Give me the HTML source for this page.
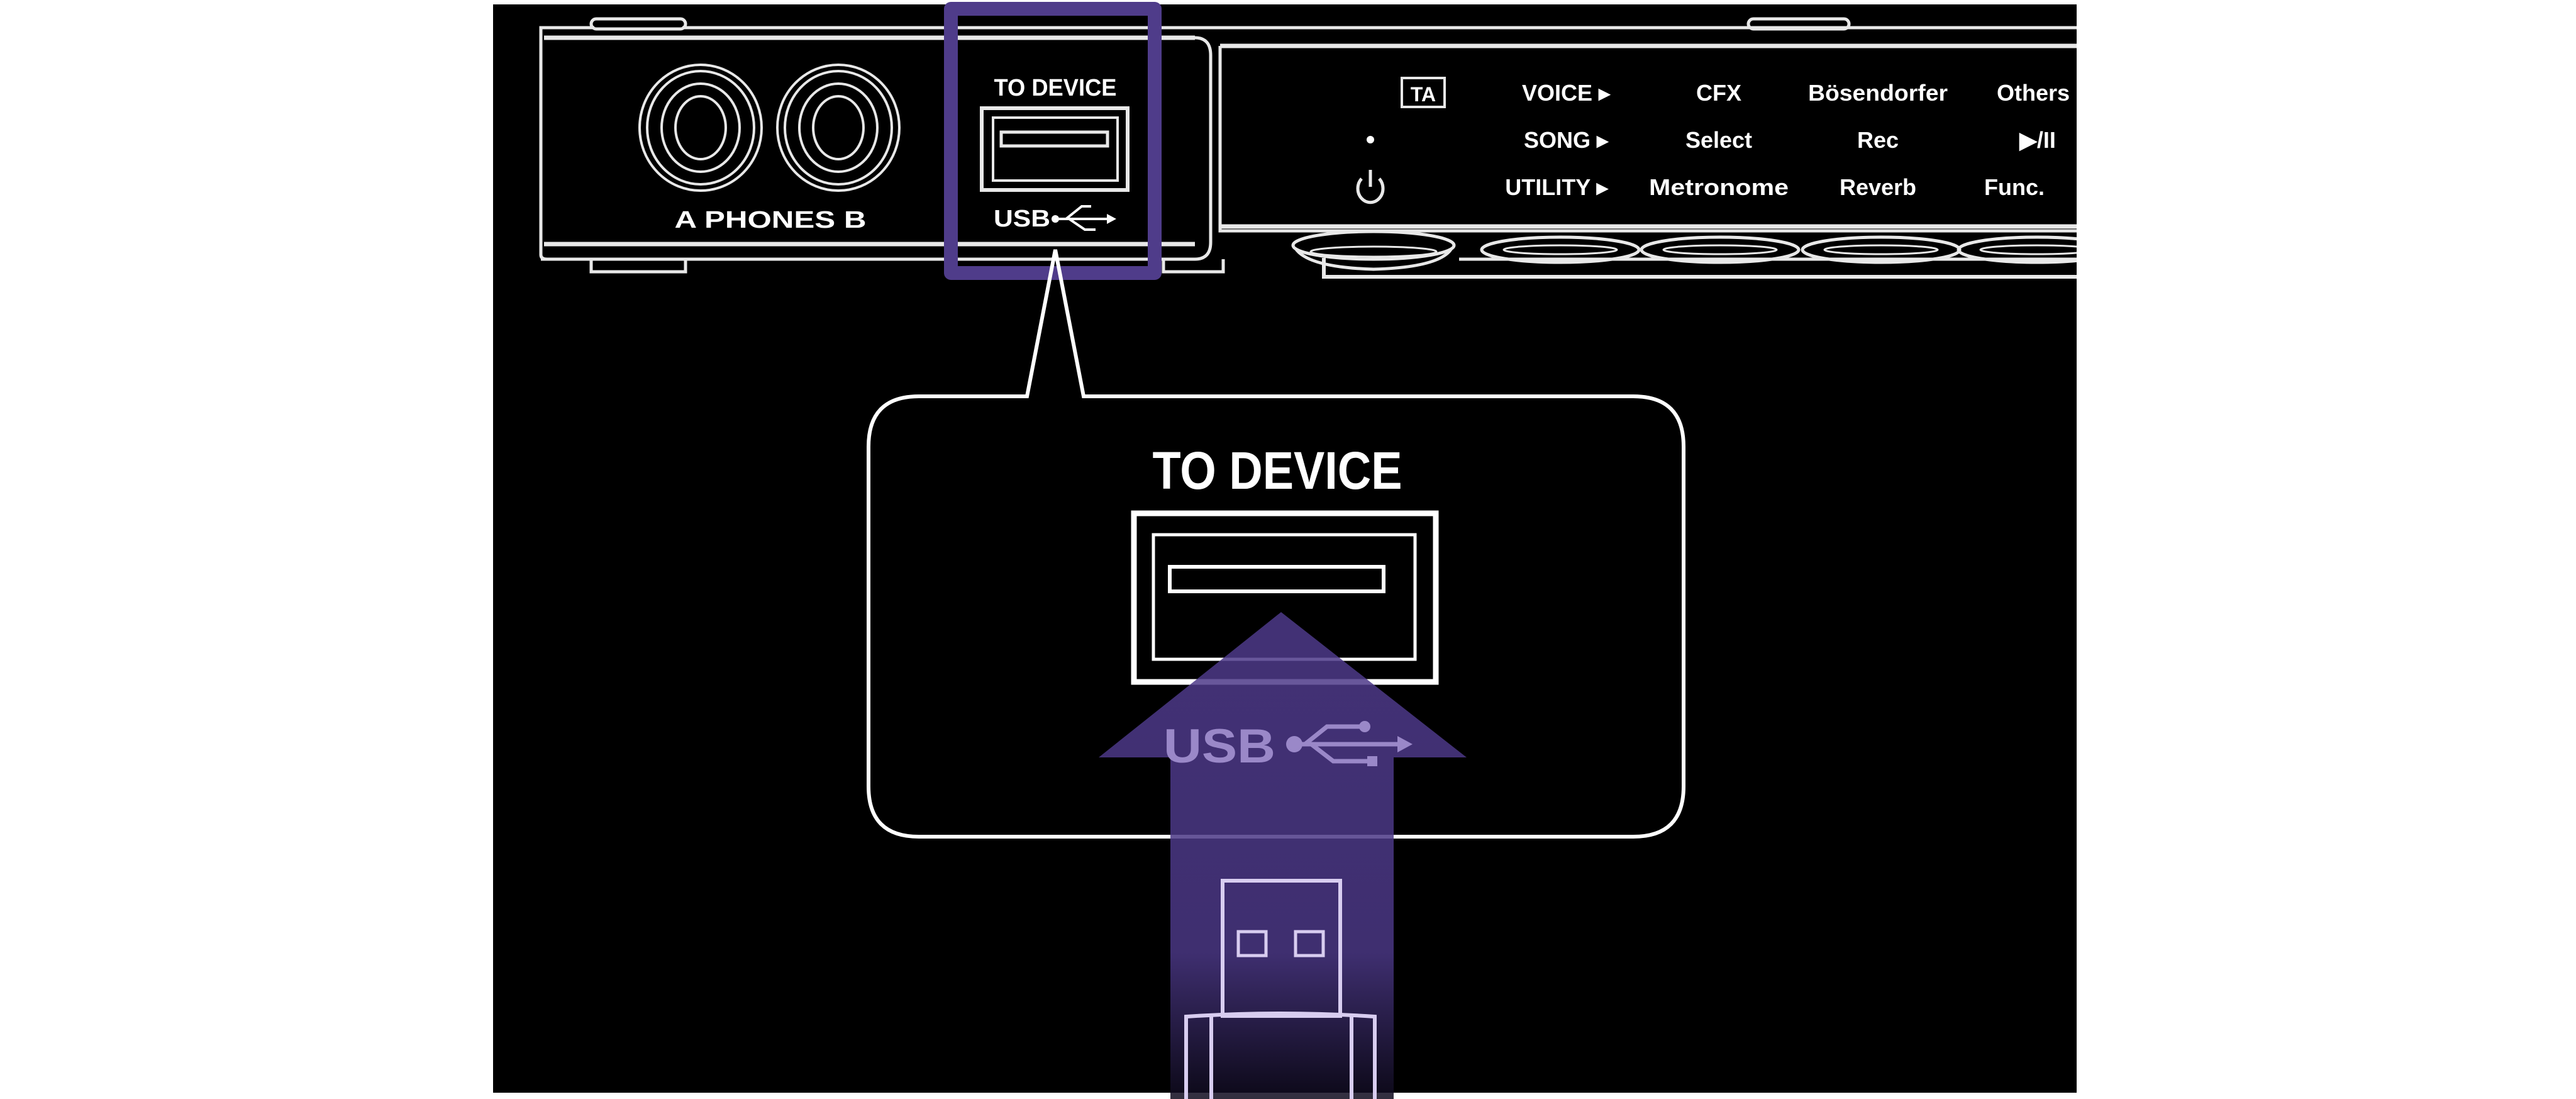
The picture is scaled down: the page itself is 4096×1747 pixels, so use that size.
<!DOCTYPE html>
<html><head><meta charset="utf-8"><style>
html,body{margin:0;padding:0;background:#fff;}
svg{display:block;}
text{font-family:"Liberation Sans",sans-serif;fill:#fff;font-weight:bold;}
</style></head><body>
<svg width="4096" height="1747" viewBox="0 0 4096 1747" xmlns="http://www.w3.org/2000/svg">
<defs>
<linearGradient id="ag" x1="0" y1="0" x2="0" y2="1">
<stop offset="0" stop-color="#4e3a8a"/>
<stop offset="0.7" stop-color="#4a3784"/>
<stop offset="1" stop-color="#0e0a1c"/>
</linearGradient>
<clipPath id="cp"><rect x="784" y="7" width="2518" height="1730"/></clipPath>
</defs>
<rect x="784" y="7" width="2518" height="1730" fill="#000"/>
<g clip-path="url(#cp)" stroke="#e8e8e8" fill="none" stroke-width="5">
<path d="M860 70 V44 H945 M1085 44 H3310"/>
<rect x="940" y="30" width="150" height="16" rx="8"/>
<rect x="2780" y="30" width="160" height="16" rx="8"/>
<path d="M860 70 V405 Q860 412 870 412 H1900 Q1925 412 1925 385 V88 Q1925 60 1900 60 H868" />
<line x1="865" y1="60" x2="1900" y2="60" stroke-width="7"/>
<line x1="865" y1="388" x2="1900" y2="388" stroke-width="7"/>
<path d="M860 412 H940 V432 H1090 V412 H1560"/>
<path d="M1790 412 H1850 V432 H1945 V412"/>
<path d="M1940 73 V367 H3310"/>
<line x1="1940" y1="73" x2="3310" y2="73" stroke-width="7"/>
<line x1="1940" y1="360" x2="3310" y2="360" stroke-width="7"/>
<path d="M2105 410 V440 H3310" stroke-width="6"/>
<line x1="2320" y1="412" x2="3310" y2="412"/>
<ellipse cx="2184" cy="390" rx="128" ry="22"/>
<path d="M2060 395 Q2080 425 2184 428 Q2290 425 2308 395"/>
<ellipse cx="2184" cy="400" rx="100" ry="8" stroke-width="3"/>
<ellipse cx="2481" cy="397" rx="125" ry="20"/>
<ellipse cx="2481" cy="397" rx="90" ry="7" stroke-width="3"/>
<ellipse cx="2735" cy="397" rx="125" ry="20"/>
<ellipse cx="2735" cy="397" rx="90" ry="7" stroke-width="3"/>
<ellipse cx="2991" cy="397" rx="125" ry="20"/>
<ellipse cx="2991" cy="397" rx="90" ry="7" stroke-width="3"/>
<ellipse cx="3239" cy="397" rx="125" ry="20"/>
<ellipse cx="3239" cy="397" rx="90" ry="7" stroke-width="3"/>
<g stroke-width="4">
<ellipse cx="1114" cy="203" rx="97" ry="100"/><ellipse cx="1114" cy="203" rx="85" ry="90"/>
<ellipse cx="1114" cy="203" rx="62" ry="70"/><ellipse cx="1114" cy="203" rx="40" ry="50"/>
<ellipse cx="1333" cy="203" rx="97" ry="100"/><ellipse cx="1333" cy="203" rx="85" ry="90"/>
<ellipse cx="1333" cy="203" rx="62" ry="70"/><ellipse cx="1333" cy="203" rx="40" ry="50"/>
</g>
<rect x="1561" y="172" width="232" height="130" stroke-width="6"/>
<rect x="1579" y="187" width="198" height="100" stroke-width="4"/>
<rect x="1592" y="210" width="169" height="22" stroke-width="5"/>
<rect x="2229" y="124" width="68" height="46" stroke-width="4"/>
<path d="M2165 284 A20 22 0 1 0 2193 284" stroke-width="5"/>
<line x1="2179" y1="270" x2="2179" y2="297" stroke-width="5"/>
</g>
<g clip-path="url(#cp)">
<circle cx="2179" cy="222" r="6" fill="#fff"/>
<text x="1225" y="362" font-size="38" text-anchor="middle" textLength="305" lengthAdjust="spacingAndGlyphs">A  PHONES  B</text>
<text x="1678" y="152" font-size="38" text-anchor="middle" textLength="195" lengthAdjust="spacingAndGlyphs">TO DEVICE</text>
<text x="1580" y="360" font-size="38" textLength="90" lengthAdjust="spacingAndGlyphs">USB</text>
<g stroke="#fff" stroke-width="4" fill="none"><path d="M1678 348 H1765 M1695 348 L1720 328 H1735 M1700 348 L1725 365 H1742"/></g>
<circle cx="1678" cy="348" r="6" fill="#fff"/><path d="M1760 340 L1775 348 L1760 356Z" fill="#fff"/>
<g font-size="36">
<text x="2263" y="161" text-anchor="middle" font-size="32">TA</text>
<text x="2490" y="160" text-anchor="middle">VOICE ▸</text>
<text x="2733" y="160" text-anchor="middle">CFX</text>
<text x="2986" y="160" text-anchor="middle" textLength="222" lengthAdjust="spacingAndGlyphs">Bösendorfer</text>
<text x="3175" y="160">Others</text>
<text x="2490" y="235" text-anchor="middle">SONG ▸</text>
<text x="2733" y="235" text-anchor="middle">Select</text>
<text x="2986" y="235" text-anchor="middle">Rec</text>
<text x="3240" y="235" text-anchor="middle">▶/II</text>
<text x="2475" y="310" text-anchor="middle">UTILITY ▸</text>
<text x="2733" y="310" text-anchor="middle" textLength="222" lengthAdjust="spacingAndGlyphs">Metronome</text>
<text x="2986" y="310" text-anchor="middle">Reverb</text>
<text x="3203" y="310" text-anchor="middle">Func.</text>
</g>
</g>
<path d="M1512 14 H1836 V434 H1512 Z" fill="none" stroke="#4f3c8a" stroke-width="22" stroke-linejoin="round"/>
<rect x="1505" y="7" width="338" height="18" fill="#4f3c8a"/>
<path d="M1633 630 L1678 397 L1723 630 H2597 Q2677 630 2677 710 V1250 Q2677 1330 2597 1330 H1461 Q1381 1330 1381 1250 V710 Q1381 630 1461 630 Z" fill="none" stroke="#fff" stroke-width="6"/>
<text x="2031" y="777" font-size="84" text-anchor="middle" textLength="397" lengthAdjust="spacingAndGlyphs">TO DEVICE</text>
<rect x="1803" y="816" width="480" height="268" fill="none" stroke="#fff" stroke-width="9"/>
<rect x="1834" y="850" width="416" height="198" fill="none" stroke="#fff" stroke-width="5"/>
<rect x="1860" y="901" width="340" height="39" fill="none" stroke="#fff" stroke-width="6"/>
<path d="M2037 973 L2332 1204 H2216 V1747 H1861 V1204 H1747 Z" fill="url(#ag)" opacity="0.85"/>
<text x="1850" y="1212" font-size="76" style="fill:#9a88c8" textLength="178" lengthAdjust="spacingAndGlyphs">USB</text>
<g stroke="#9a88c8" stroke-width="7" fill="none"><path d="M2058 1183 H2225 M2075 1183 L2110 1155 H2170 M2085 1183 L2120 1210 H2180"/></g>
<circle cx="2058" cy="1183" r="13" fill="#9a88c8"/><circle cx="2170" cy="1155" r="9" fill="#9a88c8"/><rect x="2174" y="1202" width="16" height="16" fill="#9a88c8"/>
<path d="M2222 1170 L2246 1183 L2222 1196Z" fill="#9a88c8"/>
<g fill="none" stroke="#d8cdf0" stroke-width="6">
<rect x="1944" y="1400" width="187" height="215"/>
<rect x="1969" y="1481" width="44" height="38" stroke-width="5"/>
<rect x="2060" y="1481" width="44" height="38" stroke-width="5"/>
<path d="M1886 1747 V1616 Q2036 1606 2186 1616 V1747"/>
<path d="M1926 1612 V1747 M2149 1612 V1747"/>
</g>
</svg>
</body></html>
